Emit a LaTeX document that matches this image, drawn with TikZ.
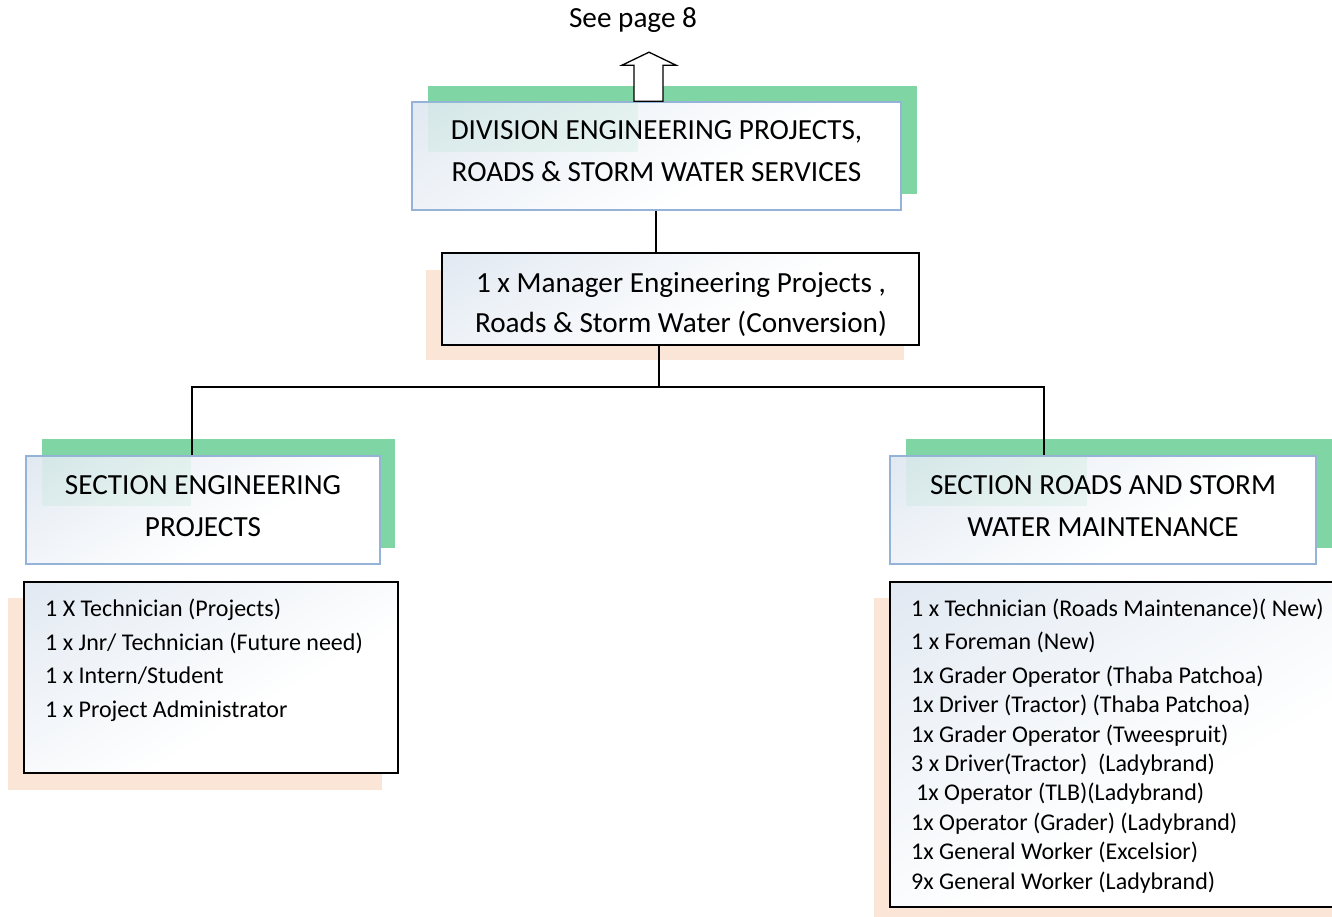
\documentclass[tikz,border=0pt]{standalone}
\usepackage{fontspec}
\setmainfont{Carlito}
\definecolor{shgreen}{HTML}{7FD6A4}
\definecolor{shpeach}{HTML}{FBE5D6}
\definecolor{bluebd}{HTML}{95B3D7}
\definecolor{fillblue}{HTML}{D4DFEC}
\pgfdeclareverticalshading{boxshade}{100bp}{color(0bp)=(white); color(40bp)=(white); color(70bp)=(white!55!fillblue); color(100bp)=(fillblue)}
\begin{document}
\begin{tikzpicture}[x=1pt,y=-1pt,
  boxfill/.style={shading=boxshade, shading angle=30},
  headbox/.style={boxfill, draw=bluebd, line width=1.6pt, minimum height=108pt, inner sep=0pt},
  blackbox/.style={boxfill, draw=black, line width=1.5pt, inner sep=0pt},
  greenshadow/.style={fill=shgreen, draw=none},
  peachshadow/.style={fill=shpeach, draw=none},
  tint/.style={fill=shgreen, fill opacity=0.12, draw=none},
  headtext/.style={font=\fontsize{29.2}{42}\selectfont, align=center, anchor=base, inner sep=0pt},
  mgrtext/.style={font=\fontsize{29.2}{40}\selectfont, align=center, anchor=base, inner sep=0pt},
  listtext/.style={font=\fontsize{24}{29.4}\selectfont, align=left, anchor=base west, inner sep=0pt},
  conn/.style={draw=black, line width=1.5pt}
]
\useasboundingbox (0,0) rectangle (1332,917);

% shadows
\fill[greenshadow] (428,86) rectangle (917,194);
\fill[peachshadow] (426,270) rectangle (904,360);
\fill[greenshadow] (42,439) rectangle (395,548);
\fill[greenshadow] (906,439) rectangle (1340,548);
\fill[peachshadow] (8,598) rectangle (382,790);
\fill[peachshadow] (874,598) rectangle (1340,917);

% boxes
\node[headbox, minimum width=489pt] (div) at (656.5,156) {};
\fill[tint] (428,102) rectangle (638,152);
\node[blackbox, minimum width=477pt, minimum height=92pt] (mgr) at (680.5,299) {};
\node[headbox, minimum width=354pt] (secL) at (203,510) {};
\fill[tint] (42,456) rectangle (191,506);
\node[headbox, minimum width=426pt] (secR) at (1103,510) {};
\fill[tint] (906,456) rectangle (1087,506);
\node[blackbox, minimum width=374pt, minimum height=191pt] (listL) at (211,677.5) {};
\node[blackbox, minimum width=460pt, minimum height=325pt] (listR) at (1120,744.5) {};

% texts (base anchor = baseline of the last line)
\node[headtext] (see) at (633,28) {See page 8};
\node[headtext] (divT) at (656.5,181.5) {DIVISION ENGINEERING PROJECTS,\\ROADS \& STORM WATER SERVICES};
\node[mgrtext] (mgrT) at (681,332) {1 x Manager Engineering Projects ,\\Roads \& Storm Water (Conversion)};
\node[headtext] (secLT) at (203,536) {SECTION ENGINEERING\\PROJECTS};
\node[headtext] (secRT) at (1103,536) {SECTION ROADS AND STORM\\WATER MAINTENANCE};
\node[listtext] (listLT) at (45,717.5) {1 X Technician (Projects)\\[4.3pt]1 x Jnr/ Technician (Future need)\\[4.3pt]1 x Intern/Student\\[4.3pt]1 x Project Administrator};
\node[listtext] (listRT) at (911,889) {1 x Technician (Roads Maintenance)( New)\\[3.6pt]1 x Foreman (New)\\[4.6pt]1x Grader Operator (Thaba Patchoa)\\1x Driver (Tractor) (Thaba Patchoa)\\1x Grader Operator (Tweespruit)\\3 x Driver(Tractor)~~(Ladybrand)\\\hspace*{5pt}1x Operator (TLB)(Ladybrand)\\1x Operator (Grader) (Ladybrand)\\1x General Worker (Excelsior)\\9x General Worker (Ladybrand)};

% up arrow
\coordinate (aL) at (634,0);
\draw[fill=white, draw=black, line width=1.3pt]
  (div.north -| aL) -- ++(0,-36) -- ++(-12,0) -- ++(27,-13) -- ++(27,13) -- ++(-13,0) -- ++(0,36) -- cycle;

% connectors
\coordinate (xD) at (656,0);
\coordinate (xM) at (659,0);
\coordinate (xL) at (192,0);
\coordinate (xR) at (1044,0);
\coordinate (bus) at (659,387);
\draw[conn] (div.south -| xD) -- (mgr.north -| xD);
\draw[conn] (mgr.south -| xM) -- (bus);
\draw[conn] (secL.north -| xL) |- (bus) -| (secR.north -| xR);
\end{tikzpicture}
\end{document}
